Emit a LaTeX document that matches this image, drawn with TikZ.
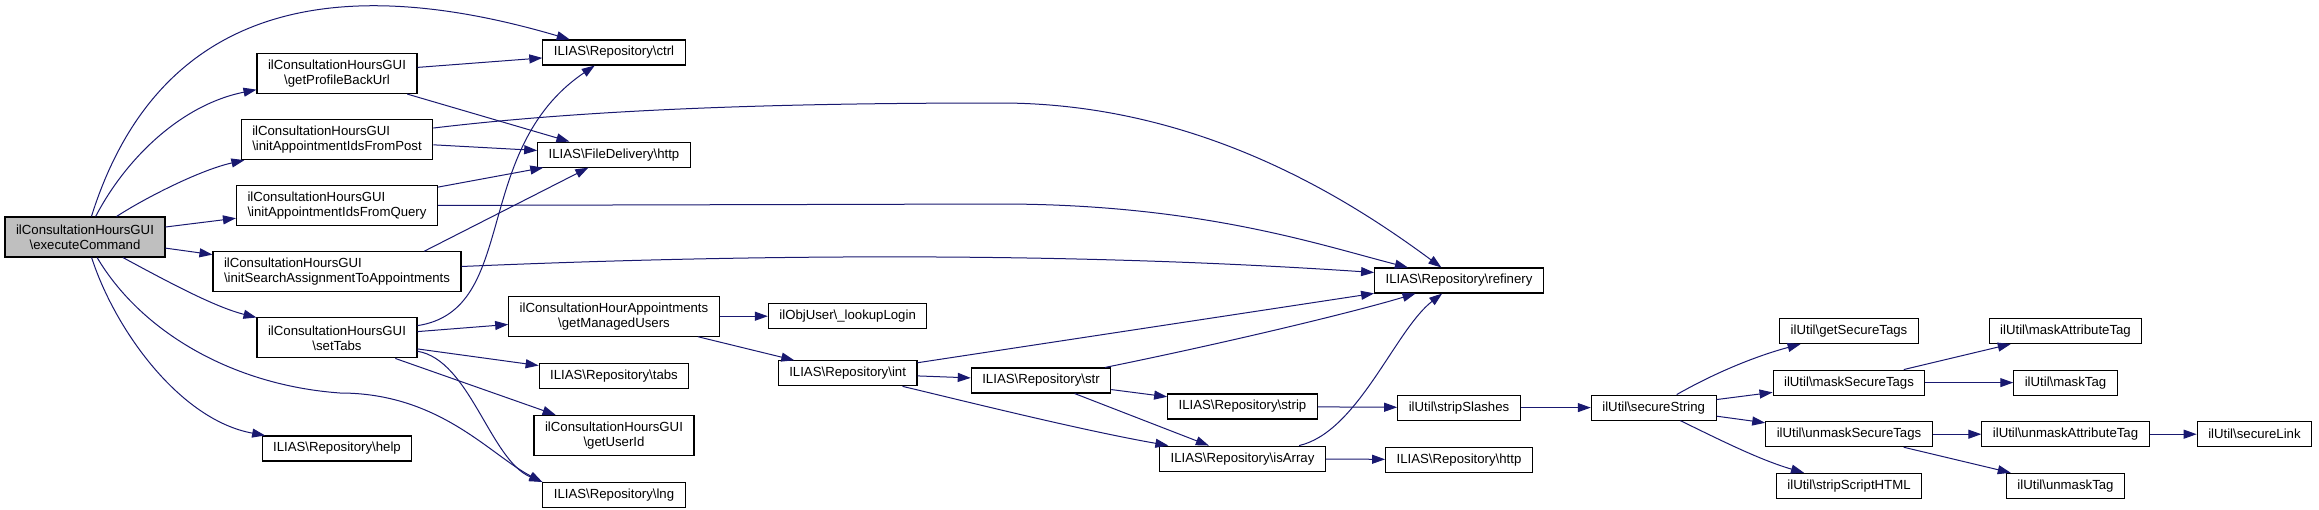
\documentclass[tikz,border=0pt]{standalone}
\usepackage{fontspec}
\setmainfont{Liberation Sans}
\usepackage{tikz}
\usetikzlibrary{positioning,calc,arrows.meta}
\definecolor{cgedge}{RGB}{25,25,112}
\definecolor{cgroot}{RGB}{191,191,191}
\newcommand{\nsb}{\textbackslash}

\begin{document}
\begin{tikzpicture}[
      x=1pt,y=-1pt,
      node distance=25pt,
      every node/.style={draw=black,fill=white,text=black,rectangle,
        line width=1.1pt,inner xsep=11pt,inner ysep=0pt,minimum height=25pt,
        font=\fontsize{13.2}{15}\selectfont},
      twoline/.style={minimum height=40pt,align=center},
      leftline/.style={minimum height=40pt,align=left},
      every path/.style={cgedge,line width=1pt,>={Triangle[length=13pt,width=9pt]}},
      ]
      \fill[white] (0,0) rectangle (2319,509);
      \useasboundingbox (0,0) rectangle (2319,509);
      \node[twoline,fill=cgroot] (cgExec) at (85,237) {ilConsultationHoursGUI\\\nsb executeCommand};
      \node[twoline] (cgProfile) at (337,73.5) {ilConsultationHoursGUI\\\nsb getProfileBackUrl};
      \node[leftline,below=of cgProfile] (cgPost) {ilConsultationHoursGUI\\\nsb initAppointmentIdsFromPost};
      \node[leftline,below=of cgPost]    (cgQuery) {ilConsultationHoursGUI\\\nsb initAppointmentIdsFromQuery};
      \node[leftline,below=of cgQuery]   (cgSearch) {ilConsultationHoursGUI\\\nsb initSearchAssignmentToAppointments};
      \node[twoline,below=of cgSearch]   (cgTabs) {ilConsultationHoursGUI\\\nsb setTabs};
      \node[below=77pt of cgTabs]        (cgHelp) {ILIAS\nsb Repository\nsb help};
      \node (cgCtrl) at (614,52.5) {ILIAS\nsb Repository\nsb ctrl};
      \node[below=76pt of cgCtrl]             (cgFileHttp) {ILIAS\nsb FileDelivery\nsb http};
      \node[twoline,below=128pt of cgFileHttp] (cgManaged) {ilConsultationHourAppointments\\\nsb getManagedUsers};
      \node[below=26pt of cgManaged]          (cgRepoTabs) {ILIAS\nsb Repository\nsb tabs};
      \node[twoline,below=26pt of cgRepoTabs] (cgUserId) {ilConsultationHoursGUI\\\nsb getUserId};
      \node[below=26pt of cgUserId]           (cgLng) {ILIAS\nsb Repository\nsb lng};
      \node[right=48pt of cgManaged] (cgLookup) {ilObjUser\nsb\_lookupLogin};
      \node[below=31pt of cgLookup]  (cgInt) {ILIAS\nsb Repository\nsb int};
      \node (cgStr) at (1041,380.5) {ILIAS\nsb Repository\nsb str};
      \node (cgStrip) at (1242.5,406.5) {ILIAS\nsb Repository\nsb strip};
      \node[below=26pt of cgStrip] (cgIsArray) {ILIAS\nsb Repository\nsb isArray};
      \node (cgRefinery) at (1459,280.5) {ILIAS\nsb Repository\nsb refinery};
      \node[below=101pt of cgRefinery] (cgSlashes) {ilUtil\nsb stripSlashes};
      \node[below=26pt of cgSlashes]   (cgRepoHttp) {ILIAS\nsb Repository\nsb http};
      \node[right=70pt of cgSlashes]   (cgSecure) {ilUtil\nsb secureString};
      \node (cgGetSecure) at (1849,331) {ilUtil\nsb getSecureTags};
      \node[below=25.5pt of cgGetSecure]    (cgMaskSecure) {ilUtil\nsb maskSecureTags};
      \node[below=25.5pt of cgMaskSecure]   (cgUnmaskSecure) {ilUtil\nsb unmaskSecureTags};
      \node[below=25.5pt of cgUnmaskSecure] (cgStripScript) {ilUtil\nsb stripScriptHTML};
      \node (cgMaskAttr) at (2065.5,331) {ilUtil\nsb maskAttributeTag};
      \node[below=25.5pt of cgMaskAttr]   (cgMaskTag) {ilUtil\nsb maskTag};
      \node[below=25.5pt of cgMaskTag]    (cgUnmaskAttr) {ilUtil\nsb unmaskAttributeTag};
      \node[below=25.5pt of cgUnmaskAttr] (cgUnmaskTag) {ilUtil\nsb unmaskTag};
      \node[right=47pt of cgUnmaskAttr]   (cgLink) {ilUtil\nsb secureLink};
      \path[->]
      (cgExec) edge (cgQuery)
      (cgExec) edge (cgSearch)
      (cgProfile) edge (cgCtrl)
      (cgProfile) edge (cgFileHttp)
      (cgPost) edge (cgFileHttp)
      (cgQuery) edge (cgFileHttp)
      (cgTabs) edge (cgManaged)
      (cgTabs) edge (cgRepoTabs)
      (cgTabs) edge (cgUserId)
      (cgManaged) edge (cgLookup)
      (cgManaged) edge (cgInt)
      (cgInt) edge (cgRefinery)
      (cgInt) edge (cgStr)
      (cgStr) edge (cgStrip)
      (cgStr) edge (cgIsArray)
      (cgStrip) edge (cgSlashes)
      (cgSlashes) edge (cgSecure)
      (cgIsArray) edge (cgRepoHttp)
      (cgSecure) edge (cgMaskSecure)
      (cgSecure) edge (cgUnmaskSecure)
      (cgMaskSecure) edge (cgMaskAttr)
      (cgMaskSecure) edge (cgMaskTag)
      (cgUnmaskSecure) edge (cgUnmaskAttr)
      (cgUnmaskSecure) edge (cgUnmaskTag)
      (cgUnmaskAttr) edge (cgLink);
      \draw[->] (cgExec) .. controls (150,30) and (300,-40) .. (cgCtrl);
      \draw[->] (cgExec) .. controls (125,160) and (180,105) .. (cgProfile);
      \draw[->] (cgExec) .. controls (145,198) and (200,170) .. (cgPost);
      \draw[->] (cgExec) .. controls (170,283) and (215,307) .. (cgTabs);
      \draw[->] (cgExec) .. controls (115,330) and (180,420) .. (cgHelp);
      \draw[->] (cgExec) .. controls (140,330) and (230,385) .. (340,393)
        .. controls (440,393) and (490,455) .. (cgLng.north west);
      \draw[->] (cgTabs) .. controls (470,360) and (490,460) .. (cgLng.north west);
      \draw[->] (cgTabs) .. controls (520,310) and (470,150) .. (cgCtrl);
      \draw[->] ($(cgSearch.north)!0.7!(cgSearch.north east)$) -- (cgFileHttp);
      \draw[->] (cgPost) .. controls (600,108) and (800,103) .. (1000,103)
        .. controls (1200,103) and (1350,200) .. (cgRefinery);
      \draw[->] (cgQuery) -- (1000,204) .. controls (1200,204) and (1320,245) .. (cgRefinery);
      \draw[->] (cgSearch) .. controls (800,252) and (1100,254) .. ([yshift=8pt]cgRefinery.west);
      \draw[->] (cgStr) .. controls (1230,342) and (1354,312) .. (cgRefinery);
      \draw[->] (cgIsArray) .. controls (1358,432) and (1395,330) .. (cgRefinery);
      \draw[->] (cgInt) .. controls (960,400) and (1080,430) .. (cgIsArray);
      \draw[->] (cgSecure) .. controls (1720,370) and (1760,355) .. (cgGetSecure);
      \draw[->] (cgSecure) .. controls (1720,440) and (1760,460) .. (cgStripScript);
\end{tikzpicture}
\end{document}
